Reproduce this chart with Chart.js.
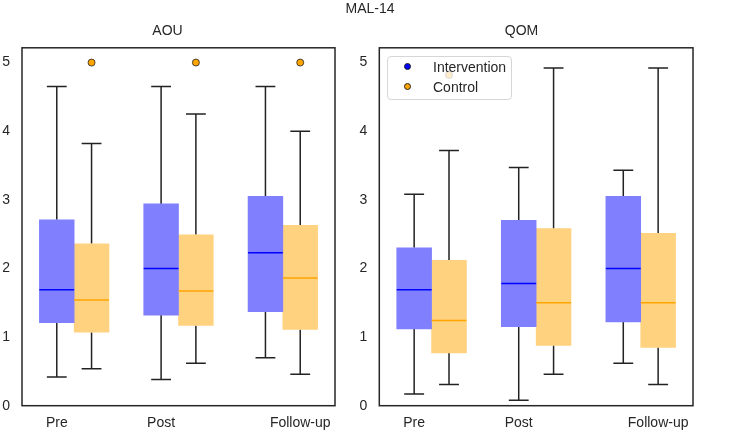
<!DOCTYPE html>
<html>
<head>
<meta charset="utf-8">
<title>MAL-14</title>
<script src="https://cdn.jsdelivr.net/npm/chart.js@4.4.1/dist/chart.umd.min.js"></script>
<style>
  body { margin: 0; background: #fff; font-family: "Liberation Sans", Arial, sans-serif; color: #262626; }
  #wrap { position: relative; width: 744px; height: 433px; overflow: hidden; }
  #suptitle { position: absolute; left: 0; top: 0; width: 740px; text-align: center; font-size: 14px; line-height: 16px; }
  #panelA { position: absolute; left: 0; top: 0; }
  #panelB { position: absolute; left: 350px; top: 0; }
  #legend {
    position: absolute; left: 387px; top: 56px; width: 123px; height: 42px;
    border: 1px solid #d6d6d6; border-radius: 4px; background: rgba(255, 255, 255, 0.8);
    font-size: 14px;
  }
  .item { position: absolute; left: 0; height: 20px; line-height: 20px; }
  .dot { position: absolute; left: 16px; top: 6px; width: 7px; height: 7px; border-radius: 50%; box-sizing: border-box; border: 0.8px solid #222; }
  .label { position: absolute; left: 45px; white-space: nowrap; }
</style>
</head>
<body>
<div id="wrap">
  <canvas id="panelA" width="372" height="433"></canvas>
  <canvas id="panelB" width="394" height="433"></canvas>
  <div id="suptitle">MAL-14</div>
  <div id="legend"></div>
</div>
<script>
const GROUPS = ["Pre", "Post", "Follow-up"];
const SERIES = ["Intervention", "Control"];
const Y_TICKS = [0, 1, 2, 3, 4, 5];

// each box: [lower whisker, q1, median, q3, upper whisker]
const AOU_INTERVENTION = [
  [0.42, 1.21, 1.69, 2.71, 4.65],
  [0.38, 1.32, 2.0, 2.94, 4.65],
  [0.7, 1.37, 2.23, 3.05, 4.65],
];
const AOU_CONTROL = [
  [0.54, 1.07, 1.54, 2.36, 3.82],
  [0.62, 1.17, 1.67, 2.49, 4.25],
  [0.46, 1.11, 1.86, 2.63, 4.0],
];
const AOU_CONTROL_OUTLIERS = [[5], [5], [5]];

const QOM_INTERVENTION = [
  [0.17, 1.12, 1.69, 2.3, 3.08],
  [0.08, 1.15, 1.78, 2.7, 3.47],
  [0.62, 1.22, 2.0, 3.05, 3.43],
];
const QOM_CONTROL = [
  [0.31, 0.77, 1.24, 2.12, 3.72],
  [0.46, 0.88, 1.5, 2.58, 4.92],
  [0.31, 0.85, 1.5, 2.51, 4.92],
];
const QOM_CONTROL_OUTLIERS = [[4.82], [], []];

const BOX_COLORS = ["#8080ff", "#ffd280"];
const MEDIAN_COLORS = ["#0000ff", "#ffa500"];
const DOT_COLORS = ["#0000ff", "#ffa500"];
const OFFSET = [-1 / 6, 1 / 6]; // hue dodge
const CAP_HALF = 0.095;
const FONT = { family: '"Liberation Sans", Arial, sans-serif', size: 14 };

// the original puts "Pre"/"Post" under the intervention box and "Follow-up" under control
function tickPos(i) {
  return i + (i === GROUPS.length - 1 ? OFFSET[1] : OFFSET[0]);
}

function makePanel(id, title, intervention, control, outliers, axisWidth, rightPad) {
  const stats = [intervention, control];

  const boxPlugin = {
    id: "boxWhiskers_" + id,
    beforeDatasetsDraw(chart) {
      const { ctx } = chart;
      const x = chart.scales.x;
      const y = chart.scales.y;
      ctx.save();
      ctx.strokeStyle = "#222";
      ctx.lineWidth = 1.5;
      stats.forEach((list, s) => {
        list.forEach((b, i) => {
          const cx = x.getPixelForValue(i + OFFSET[s]);
          const l = x.getPixelForValue(i + OFFSET[s] - CAP_HALF);
          const r = x.getPixelForValue(i + OFFSET[s] + CAP_HALF);
          ctx.beginPath();
          ctx.moveTo(cx, y.getPixelForValue(b[0]));
          ctx.lineTo(cx, y.getPixelForValue(b[1]));
          ctx.moveTo(cx, y.getPixelForValue(b[3]));
          ctx.lineTo(cx, y.getPixelForValue(b[4]));
          ctx.moveTo(l, y.getPixelForValue(b[0]));
          ctx.lineTo(r, y.getPixelForValue(b[0]));
          ctx.moveTo(l, y.getPixelForValue(b[4]));
          ctx.lineTo(r, y.getPixelForValue(b[4]));
          ctx.stroke();
        });
      });
      ctx.restore();
    },
    afterDatasetsDraw(chart) {
      const { ctx } = chart;
      const y = chart.scales.y;
      ctx.save();
      ctx.lineWidth = 1.5;
      stats.forEach((list, s) => {
        const meta = chart.getDatasetMeta(s);
        ctx.strokeStyle = MEDIAN_COLORS[s];
        list.forEach((b, i) => {
          const bar = meta.data[i];
          const py = y.getPixelForValue(b[2]);
          ctx.beginPath();
          ctx.moveTo(bar.x - bar.width / 2, py);
          ctx.lineTo(bar.x + bar.width / 2, py);
          ctx.stroke();
        });
      });
      // frame
      const a = chart.chartArea;
      ctx.strokeStyle = "#262626";
      ctx.lineWidth = 1.5;
      ctx.strokeRect(a.left, a.top, a.right - a.left, a.bottom - a.top);
      ctx.restore();
    },
  };

  const datasets = stats.map((list, s) => ({
    type: "bar",
    label: SERIES[s],
    data: list.map((b, i) => ({ x: i + OFFSET[s], y: [b[1], b[3]] })),
    backgroundColor: BOX_COLORS[s],
    borderWidth: 0,
    grouped: false,
    categoryPercentage: 1,
    barPercentage: 1,
  }));

  const outlierPoints = [];
  outliers.forEach((vals, i) => vals.forEach((v) => outlierPoints.push({ x: i + OFFSET[1], y: v })));
  datasets.push({
    type: "scatter",
    label: "outliers",
    data: outlierPoints,
    pointRadius: 3.5,
    pointBackgroundColor: DOT_COLORS[1],
    pointBorderColor: "#222",
    pointBorderWidth: 0.8,
  });

  return new Chart(document.getElementById(id), {
    type: "bar",
    data: { datasets },
    plugins: [boxPlugin],
    options: {
      responsive: false,
      animation: false,
      layout: { padding: { left: 0, right: rightPad, top: 0, bottom: 0 } },
      plugins: {
        legend: { display: false },
        tooltip: { enabled: false },
        title: {
          display: true,
          text: title,
          color: "#262626",
          font: { ...FONT, weight: "normal", lineHeight: 1.2 },
          padding: { top: 23, bottom: 8 },
        },
      },
      scales: {
        x: {
          type: "linear",
          offset: false,
          min: -0.5,
          max: 2.5,
          grid: { display: false, drawTicks: false },
          border: { display: false },
          afterBuildTicks: (axis) => {
            axis.ticks = GROUPS.map((g, i) => ({ value: tickPos(i) }));
          },
          afterFit: (axis) => {
            axis.height = 27.3;
          },
          ticks: {
            autoSkip: false,
            maxRotation: 0,
            padding: 9,
            color: "#262626",
            font: FONT,
            callback: (value, index) => GROUPS[index],
          },
        },
        y: {
          type: "linear",
          min: 0,
          max: 5.215,
          grid: { display: false, drawTicks: false },
          border: { display: false },
          afterBuildTicks: (axis) => {
            axis.ticks = Y_TICKS.map((v) => ({ value: v }));
          },
          afterFit: (axis) => {
            axis.width = axisWidth;
          },
          ticks: {
            padding: 12,
            color: "#262626",
            font: FONT,
            callback: (value) => String(value),
          },
        },
      },
    },
  });
}

function buildLegend() {
  const box = document.getElementById("legend");
  SERIES.forEach((name, s) => {
    const item = document.createElement("div");
    item.className = "item";
    item.style.top = s * 20 + "px";
    item.innerHTML = `<span class="dot" style="background:${DOT_COLORS[s]}"></span><span class="label">${name}</span>`;
    box.appendChild(item);
  });
}

makePanel("panelA", "AOU", AOU_INTERVENTION, AOU_CONTROL, AOU_CONTROL_OUTLIERS, 22, 37);
makePanel("panelB", "QOM", QOM_INTERVENTION, QOM_CONTROL, QOM_CONTROL_OUTLIERS, 29.3, 51);
buildLegend();
</script>
</body>
</html>
